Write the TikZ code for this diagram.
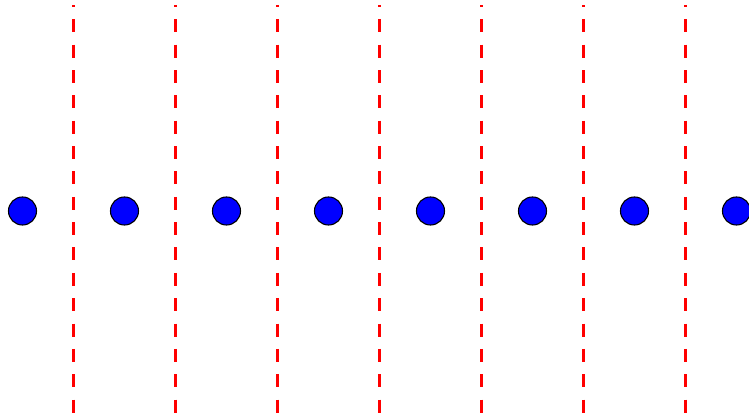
\documentclass[tikz,border=0pt]{standalone}
\begin{document}
\begin{tikzpicture}[
            wall/.style={red,line width=1.8pt,dash pattern=on 0.255cm off 0.242cm,dash phase=0.216cm},
            ball/.style={circle,draw=black,fill=blue,line width=0.6pt,minimum size=0.55cm,inner sep=0pt}]
            \useasboundingbox (-0.441,-4.059) rectangle (14.245,4.137);
            \foreach \x in {1,3,...,13}
            \draw[wall](\x,4.039)--(\x,-4.1);
            \foreach \x in {0,...,7}
            \node[ball] (ball\x) at (2*\x,0){};
            \end{tikzpicture}
\end{document}
